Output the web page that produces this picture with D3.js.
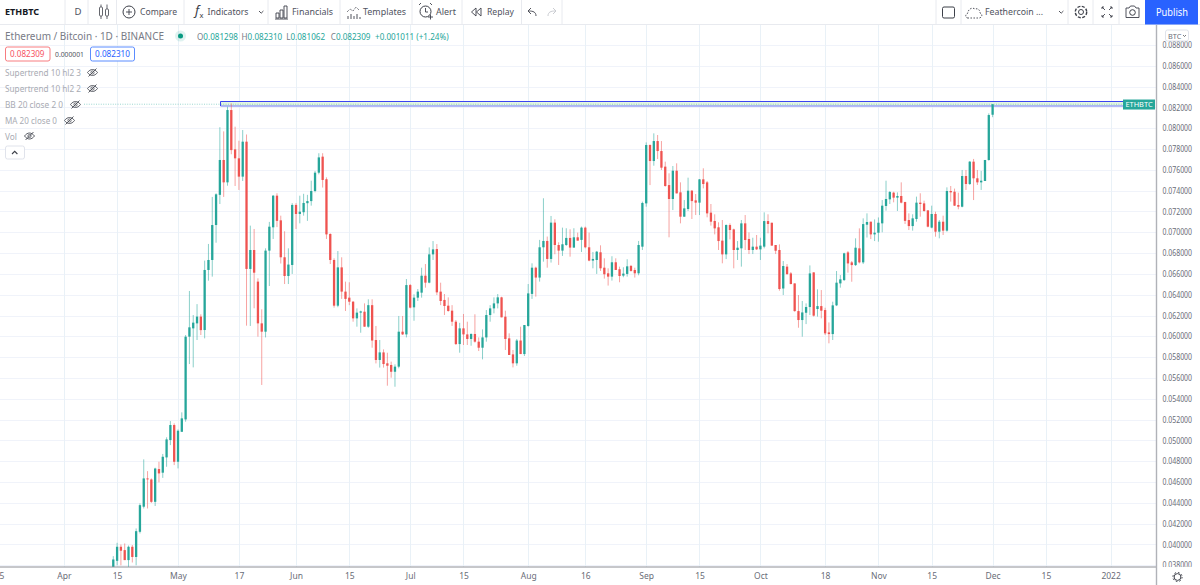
<![CDATA[<!DOCTYPE html>
<html><head><meta charset="utf-8">
<style>html,body{margin:0;padding:0;background:#fff;overflow:hidden}svg{display:block}text{font-family:"Noto Sans",sans-serif}</style>
<script src="https://cdnjs.cloudflare.com/ajax/libs/d3/7.8.5/d3.min.js"></script>
</head><body><svg id="c" width="1200" height="585"></svg>
<script>
// Daily candles from 14 Apr 2021 to 1 Dec 2021, prices in thousandths of a BTC
const firstDay = "2021-04-14";
const O = [
37.6,38.43,39.78,39.46,38.5,39.78,38.8,41.22,43.63,46.35,46.25,44.1,47.25,46.9,48.37,50.04,51.48,
47.95,50.83,52.02,59.97,60.77,61.25,61.9,60.61,66.38,67.34,70.7,73.6,76.95,74.8,81.75,77.97,77.11,75.35,78.71,66.48,68.3,65.26,61.25,60.45,68.24,70.48,73.52,71.15,67.6,65.8,66.86,
72.63,71.76,71.93,72.8,73.0,73.97,75.73,77.27,75.1,69.84,67.34,62.95,66.63,64.3,63.72,63.33,61.73,62.28,62.37,60.93,63.0,59.65,57.73,58.46,57.41,57.25,56.6,57.09,60.45,60.19,
64.93,62.79,63.72,64.2,65.83,65.16,67.88,68.39,64.3,63.5,62.95,62.47,61.41,59.26,60.77,60.19,59.75,60.23,59.49,58.91,59.9,62.05,62.69,63.17,63.75,61.89,59.81,58.27,57.41,59.6,58.3,
61.0,64.08,66.6,65.65,68.56,69.17,67.44,70.93,68.78,68.24,68.78,69.46,68.53,69.52,69.27,70.45,68.56,67.28,67.34,68.08,66.6,66.06,65.74,67.12,66.45,65.84,66.0,66.77,66.38,66.06,68.62,
72.78,78.39,76.85,78.77,77.81,76.31,74.54,73.2,75.92,73.84,71.5,72.24,74.0,73.07,72.85,75.09,74.8,71.89,71.09,70.48,69.2,67.88,70.7,70.28,68.3,68.46,70.86,69.36,68.3,68.62,
68.36,68.62,71.08,70.92,68.78,68.3,64.6,66.7,66.05,65.09,62.43,61.57,62.27,62.82,66.15,62.63,62.91,62.53,60.38,60.22,62.98,65.09,65.41,68.07,67.11,66.85,68.46,67.11,70.73,71.02,69.8,
69.96,70.86,72.53,73.17,73.81,73.33,73.49,72.91,71.18,70.6,71.28,72.85,72.78,72.11,70.45,71.76,70.06,71.02,70.16,73.97,73.9,72.62,72.46,75.41,74.64,76.79,75.19,74.8,74.93,76.95,
81.298];
const H = [
38.88,40.16,40.0,40.1,39.9,39.95,41.54,43.95,48.18,47.05,46.35,47.38,47.95,48.7,50.3,51.86,51.64,
51.06,52.7,60.13,64.36,62.05,63.1,62.12,67.28,68.88,73.4,73.75,80.1,79.7,82.07,82.39,80.15,78.8,79.83,79.4,70.64,70.32,65.58,62.6,68.46,71.0,73.58,73.75,71.6,70.1,68.46,72.8,
72.8,73.52,73.7,73.6,74.96,75.9,77.6,77.6,75.28,69.9,67.5,68.2,67.6,65.26,65.2,63.4,62.69,62.47,63.17,63.56,63.56,61.0,59.65,58.75,58.43,57.57,57.31,61.96,61.96,65.51,
65.03,64.04,64.55,66.6,66.95,68.55,69.16,68.87,65.16,64.07,63.75,63.0,61.57,61.3,62.15,61.41,60.29,62.12,59.9,60.67,62.53,63.0,63.75,64.07,63.81,62.47,60.29,58.69,59.75,60.93,61.09,
65.03,67.02,66.7,69.27,73.27,69.59,71.57,71.25,69.04,70.45,70.39,70.29,70.39,69.97,70.55,70.55,69.97,68.11,68.21,68.75,67.5,66.54,67.7,67.5,66.7,66.64,67.41,66.86,66.6,69.17,72.95,
78.64,78.45,79.51,79.35,78.77,76.79,75.67,76.37,76.63,74.8,73.1,75.25,74.06,73.68,75.12,76.15,74.93,72.72,71.73,70.96,71.18,70.76,70.86,70.35,69.16,71.18,71.66,69.99,69.48,69.74,
69.48,71.92,71.73,70.92,68.78,68.84,67.24,66.95,66.18,65.09,63.97,63.4,63.17,66.82,66.15,64.52,64.45,62.75,61.34,63.33,66.28,65.89,68.04,68.2,67.24,69.42,70.38,71.34,71.82,71.02,71.24,
71.43,73.1,74.96,73.97,73.9,73.84,74.8,72.94,71.82,71.73,73.43,73.75,73.04,72.11,72.56,71.98,71.18,71.6,74.32,74.45,74.2,73.81,75.99,75.99,76.85,77.05,75.99,75.9,76.95,81.43,
82.31];
const L = [
37.5,38.0,38.0,38.5,37.8,38.27,38.0,41.06,43.46,43.46,44.0,43.7,45.97,46.4,47.47,49.55,47.63,
47.31,50.83,51.8,57.34,57.02,59.65,60.13,59.81,65.35,65.74,69.0,72.72,73.4,74.48,77.5,74.45,74.07,74.93,61.03,61.0,62.7,59.97,55.33,59.9,64.84,69.36,70.5,67.0,65.03,65.03,66.0,
70.32,70.86,71.6,71.1,72.56,73.84,75.57,74.3,69.36,66.95,62.76,62.8,63.6,62.44,63.0,61.41,60.93,60.35,60.93,60.83,58.91,57.4,57.0,57.0,55.26,56.03,55.16,56.93,60.13,59.9,
62.69,61.5,63.4,63.72,64.68,65.1,67.34,63.97,63.0,62.05,62.37,61.0,59.17,58.43,59.17,59.17,59.1,59.4,58.59,57.79,59.49,61.41,62.21,62.69,61.83,58.69,58.21,57.02,57.18,58.3,58.11,
60.93,63.6,63.82,65.26,67.18,66.6,67.09,67.89,66.86,67.73,68.69,67.66,68.53,69.2,68.11,68.46,67.22,66.54,66.0,66.29,65.55,64.88,65.36,66.38,65.2,65.68,65.74,66.22,65.65,65.87,68.3,
72.46,74.54,76.4,77.04,75.99,74.38,69.52,72.14,73.74,70.86,71.5,72.05,71.28,71.66,71.66,74.22,71.44,70.64,69.8,68.3,67.02,67.43,69.32,66.54,67.34,66.7,68.3,67.91,67.91,68.3,
67.34,68.46,69.9,68.72,67.91,64.39,63.97,65.9,65.0,62.37,60.83,59.97,61.18,62.05,61.9,61.9,61.73,60.13,59.33,59.65,62.91,64.68,65.32,66.12,65.25,66.76,67.01,66.95,69.5,69.35,69.16,
69.1,70.0,72.08,72.72,72.88,72.05,72.78,70.8,70.22,70.16,71.02,71.5,71.98,70.48,70.38,69.58,69.42,69.74,70.06,72.95,72.53,72.21,72.4,74.07,74.55,73.1,74.55,74.07,74.93,76.88,
81.062];
const C = [
38.56,39.78,39.4,38.5,39.78,38.8,41.28,43.78,46.35,46.28,44.1,47.3,46.83,48.43,50.1,51.48,47.95,
50.93,52.12,59.97,60.87,61.32,61.9,60.6,66.38,67.34,70.7,73.65,76.95,74.8,81.75,77.9,77.11,75.35,78.71,66.48,68.3,66.12,61.25,60.45,68.24,70.54,73.52,71.1,67.6,65.8,66.9,72.63,
71.76,71.98,72.82,73.0,73.97,75.73,77.2,75.03,69.8,67.34,62.95,66.63,64.3,63.6,63.33,61.73,62.28,62.4,60.93,63.0,59.6,57.73,58.46,57.34,57.18,56.6,57.09,60.45,60.19,64.93,
62.76,63.72,64.3,65.83,65.16,67.88,68.36,64.23,63.4,62.92,62.44,61.41,59.26,60.77,60.19,59.75,60.23,59.49,58.91,59.9,62.05,62.69,63.17,63.75,61.83,59.75,58.21,57.41,59.6,58.3,61.09,
64.13,66.6,65.65,68.56,69.17,67.44,70.93,68.78,68.24,68.85,69.46,68.53,69.52,69.2,70.45,68.56,67.28,67.44,68.14,66.54,65.97,65.74,67.12,66.38,65.8,66.03,66.73,66.29,66.06,68.78,72.82,
78.39,76.85,78.77,77.81,76.21,74.45,73.2,75.92,73.74,71.5,72.3,74.0,73.0,72.85,75.09,74.64,71.82,71.02,70.38,69.16,67.88,70.7,70.22,68.3,68.52,70.86,69.26,68.3,68.62,68.36,
68.72,71.08,70.8,68.72,68.23,64.55,66.76,65.99,65.03,62.43,61.57,62.3,62.82,66.05,61.99,62.91,62.47,60.29,60.22,62.98,65.16,65.48,67.98,67.01,66.85,68.52,67.11,70.79,70.99,69.8,69.96,
70.92,72.56,73.2,73.87,73.33,73.49,72.85,71.1,70.6,71.34,72.85,72.72,72.05,70.54,71.76,70.06,71.02,70.16,73.97,73.84,72.56,72.46,75.41,74.64,76.79,75.19,74.8,74.96,76.95,81.27,
82.309];

const priceTicks = [88,86,84,82,80,78,76,74,72,70,68,66,64,62,60,58,56,54,52,50,48,46,44,42,40,38];
const timeTickDates = ["2021-03-15","2021-04-01","2021-04-15","2021-05-01","2021-05-17","2021-06-01","2021-06-15","2021-07-01","2021-07-15","2021-08-01","2021-08-16","2021-09-01","2021-09-15","2021-10-01","2021-10-18","2021-11-01","2021-11-15","2021-12-01","2021-12-15","2022-01-01"];
const timeTickLabels = ["15","Apr","15","May","17","Jun","15","Jul","15","Aug","16","Sep","15","Oct","18","Nov","15","Dec","15","2022"];
const rangeTop = 82.59, rangeBottom = 82.14, rangeStart = "2021-05-12";
const lastClose = 82.309;

const UP="#26a69a", DOWN="#ef5350", BLUE="#2962ff", INK="#131722", GREY="#50535e", FAINT="#a9abb3", SEP="#e8eaef";
const W=1200, H_=585, axisX=1156.5, axisY=567, topY=24.5;
const svg=d3.select("#c");
const parse=d3.utcParse("%Y-%m-%d");
const x=d3.scaleUtc().domain([parse("2021-05-01"),parse("2021-12-01")]).range([178,992.6]);
const y=d3.scaleLinear().domain([88,38]).range([45,565.3]);
const dates=O.map((_,i)=>d3.utcDay.offset(parse(firstDay),i));

const defs=svg.append("defs");
defs.append("clipPath").attr("id","pane").append("rect").attr("x",0).attr("y",topY).attr("width",axisX).attr("height",axisY-topY);
defs.append("clipPath").attr("id","paxis").append("rect").attr("x",axisX).attr("y",topY).attr("width",W-axisX).attr("height",axisY-topY);

// grid
const grid=svg.append("g").attr("clip-path","url(#pane)");
grid.selectAll("line.h").data(priceTicks).join("line").attr("x1",0).attr("x2",axisX).attr("y1",d=>Math.round(y(d))+.5).attr("y2",d=>Math.round(y(d))+.5).attr("stroke","#f0f3fa");
grid.selectAll("line.v").data(timeTickDates).join("line").attr("y1",topY).attr("y2",axisY).attr("x1",d=>Math.round(x(parse(d)))+.5).attr("x2",d=>Math.round(x(parse(d)))+.5).attr("stroke","#e9f1f7");

// highlighted range
const pane=svg.append("g").attr("clip-path","url(#pane)");
const rx=Math.round(x(parse(rangeStart)))+.5, rEnd=1123;
const rTop=Math.round(y(rangeTop))+.5, rBot=y(rangeBottom);
pane.append("rect").attr("x",rx).attr("y",rTop).attr("width",rEnd-rx).attr("height",rBot-rTop).attr("fill","#e4f5e2");
pane.append("line").attr("x1",rx).attr("x2",rEnd).attr("y1",rTop).attr("y2",rTop).attr("stroke","#3a44f0");
pane.append("line").attr("x1",rx).attr("x2",rEnd).attr("y1",rBot).attr("y2",rBot).attr("stroke","#9aa2f4").attr("stroke-width",1.4);
pane.append("line").attr("x1",rx).attr("x2",rx).attr("y1",rTop).attr("y2",rBot).attr("stroke","#3a44f0");
pane.append("line").attr("x1",84).attr("x2",rEnd).attr("y1",y(lastClose)).attr("y2",y(lastClose)).attr("stroke",UP).attr("stroke-opacity",.45).attr("stroke-dasharray","1 1.4");

// candles
const idx=d3.range(O.length);
const col=i=>C[i]>=O[i]?UP:DOWN;
pane.selectAll("line.w").data(idx).join("line").attr("class","w")
 .attr("x1",i=>x(dates[i])).attr("x2",i=>x(dates[i])).attr("y1",i=>y(H[i])).attr("y2",i=>y(L[i]))
 .attr("stroke",col).attr("stroke-width",.9).attr("stroke-opacity",.6);
pane.selectAll("rect.b").data(idx).join("rect").attr("class","b")
 .attr("x",i=>x(dates[i])-1.15).attr("width",2.3)
 .attr("y",i=>y(Math.max(O[i],C[i]))).attr("height",i=>Math.max(1,Math.abs(y(O[i])-y(C[i]))))
 .attr("fill",col);

// axes
const yAxis=d3.axisRight(y).tickValues(priceTicks).tickSize(0).tickPadding(6).tickFormat(d=>(d/1000).toFixed(6));
const ya=svg.append("g").attr("clip-path","url(#paxis)").append("g").attr("transform",`translate(${axisX},0)`).call(yAxis);
ya.select(".domain").remove();
ya.selectAll("text").attr("font-size",8.2).attr("fill","#6a6d78").attr("style",'font-family:"Noto Sans"').attr("dy","0.32em").attr("textLength",29.5).attr("lengthAdjust","spacingAndGlyphs");
const xAxis=d3.axisBottom(x).tickValues(timeTickDates.map(parse)).tickSize(0).tickPadding(5.5).tickFormat((d,i)=>timeTickLabels[i]);
const xa=svg.append("g").attr("transform",`translate(0,${axisY})`).call(xAxis);
xa.select(".domain").remove();
xa.selectAll("text").attr("font-size",8.5).attr("fill","#6a6d78").attr("style",'font-family:"Noto Sans"');
svg.append("line").attr("x1",0).attr("x2",axisX).attr("y1",axisY).attr("y2",axisY).attr("stroke","#8d8f96");
svg.append("line").attr("x1",axisX).attr("x2",axisX).attr("y1",topY).attr("y2",H_).attr("stroke","#b0b2b8").attr("stroke-width",1.4);

// symbol tag
const ly=y(lastClose);
svg.append("rect").attr("x",1123).attr("y",ly-4.7).attr("width",32).attr("height",10).attr("fill",UP);
svg.append("text").attr("x",1139).attr("y",ly+3.2).attr("text-anchor","middle").attr("font-size",7.4).attr("fill","#fff").text("ETHBTC");

// helper
const T=(s,xx,yy,o={})=>{const t=svg.append("text").attr("x",xx).attr("y",yy).attr("font-size",o.fs||9.6).attr("fill",o.c||GREY).attr("font-weight",o.w||400).attr("text-anchor",o.a||"start").text(s);
  if(o.tl)t.attr("textLength",o.tl).attr("lengthAdjust","spacingAndGlyphs");return t;};
const P=(d,o={})=>svg.append("path").attr("d",d).attr("fill",o.f||"none").attr("stroke",o.s||"#3d4049").attr("stroke-width",o.sw||.9).attr("stroke-dasharray",o.da||null);

// toolbar
svg.append("rect").attr("width",W).attr("height",24).attr("fill","#fff");
svg.append("line").attr("x1",0).attr("x2",W).attr("y1",24.5).attr("y2",24.5).attr("stroke",SEP);
[65,88,116.5,184,268,340,412,462,521.5,562,936,961,1068,1093,1119].forEach(s=>svg.append("line").attr("x1",s).attr("x2",s).attr("y1",0).attr("y2",24).attr("stroke",SEP));
T("ETHBTC",5,15.3,{fs:9.4,w:700,c:INK,tl:34});
T("D",78,15.3,{a:"middle",fs:9.6});
P("M101 4.5V19M107 4.5V19",{sw:.8});
svg.append("rect").attr("x",99.5).attr("y",7).attr("width",3).attr("height",9).attr("rx",1).attr("fill","#fff").attr("stroke","#3d4049").attr("stroke-width",.8);
svg.append("rect").attr("x",105.5).attr("y",9).attr("width",3).attr("height",7).attr("rx",1).attr("fill","#fff").attr("stroke","#3d4049").attr("stroke-width",.8);
svg.append("circle").attr("cx",129).attr("cy",12).attr("r",6).attr("fill","none").attr("stroke","#3d4049");
P("M129 9V15M126 12H132");
T("Compare",140,15.3,{tl:37});
T("f",195,15,{fs:13,c:"#3d4049"}).attr("font-style","italic");
T("x",199.5,18,{fs:7.5,c:"#3d4049"});
T("Indicators",207.5,15.3,{tl:41});
P("M259 11l2.2 2.2 2.2-2.2");
P("M276 18v-5h3v5zM280 18v-8h3v8zM284 18V6h3v12zM275 19h13");
T("Financials",292,15.3,{tl:41});
P("M347 12l3-3 3 2 3-4 3 3",{da:"1 1"});P("M348 19v-3M351 19v-5M354 19v-3M357 19v-5M360 19v-2");
T("Templates",363,15.3,{tl:43});
svg.append("circle").attr("cx",425.5).attr("cy",11.5).attr("r",5.5).attr("fill","none").attr("stroke","#3d4049");
P("M419 5l2-2M432 5l-2-2M425.5 8v4h2.5M428 17h5M430.5 14.5v5");
T("Alert",436,15.3,{tl:20});
P("M476 8v8l-4.5-4zM481 8v8l-4.5-4z");
T("Replay",487,15.3,{tl:27});
P("M536 16c0-4-3-5-7-5M531 8l-3 3 3 3");
P("M548 16c0-4 3-5 7-5M553 8l3 3-3 3",{s:"#c4c6cc"});
svg.append("rect").attr("x",942.5).attr("y",7).attr("width",12).attr("height",11).attr("rx",1.5).attr("fill","none").attr("stroke","#3d4049");
P("M968 18c-3 0-3-4 0-5 0-4 4-6 7-4 3-1 5 1 5 4 3 1 2 5-1 5z",{da:"1.5 1.5"});
T("Feathercoin ...",985,15.3,{tl:58});
P("M1059 11l2.2 2.2 2.2-2.2");
svg.append("circle").attr("cx",1081).attr("cy",12).attr("r",2.5).attr("fill","none").attr("stroke","#3d4049");
svg.append("circle").attr("cx",1081).attr("cy",12).attr("r",5.7).attr("fill","none").attr("stroke","#3d4049").attr("stroke-width",1.4).attr("stroke-dasharray","3 1.5");
P("M1102 9V7h2M1112 9V7h-2M1102 15v2h2M1112 15v2h-2M1102 7l3 3M1112 7l-3 3M1102 17l3-3M1112 17l-3-3");
P("M1126 8h3l1.5-2h4l1.5 2h3v9.5h-13z");
svg.append("circle").attr("cx",1132.5).attr("cy",12.5).attr("r",2.8).attr("fill","none").attr("stroke","#3d4049");
svg.append("rect").attr("x",1145).attr("y",0).attr("width",53).attr("height",24.5).attr("fill",BLUE);
T("Publish",1156,15.8,{fs:10.5,c:"#fff",tl:32});

// legend
T("Ethereum / Bitcoin · 1D · BINANCE",5,39.8,{fs:10,c:"#787b86",tl:159});
svg.append("circle").attr("cx",180.5).attr("cy",36).attr("r",5.5).attr("fill",UP).attr("fill-opacity",.15);
svg.append("circle").attr("cx",180.5).attr("cy",36).attr("r",2.5).attr("fill","#089981");
let ox=197;
[["O","0.081298"],["H","0.082310"],["L","0.081062"],["C","0.082309"]].forEach(([a,b])=>{
  const t=svg.append("text").attr("x",ox).attr("y",39.5).attr("font-size",8.1);
  t.append("tspan").attr("fill","#787b86").text(a);
  t.append("tspan").attr("fill",UP).text(b);
  ox+=44.6;
});
T("+0.001011 (+1.24%)",375,39.5,{fs:8.1,c:UP});
svg.append("rect").attr("x",5.5).attr("y",47).attr("width",44.5).attr("height",14).attr("rx",2).attr("fill","#fff").attr("stroke","#f77c80");
T("0.082309",10,57.3,{fs:8.3,c:"#f7525f",tl:34.5});
T("0.000001",55,57.3,{fs:7.8,c:"#50535e",tl:29});
svg.append("rect").attr("x",90.5).attr("y",47).attr("width",44).attr("height",14).attr("rx",2).attr("fill","#fff").attr("stroke","#5b8cff");
T("0.082310",95,57.3,{fs:8.3,c:"#2962ff",tl:35});
function eye(cx,cy){
  P(`M${cx-5} ${cy}c3-4 7-4 10 0c-3 4-7 4-10 0z`,{s:"#4a4d56"});
  svg.append("circle").attr("cx",cx).attr("cy",cy).attr("r",1.6).attr("fill","none").attr("stroke","#4a4d56").attr("stroke-width",.8);
  P(`M${cx-4} ${cy+4}L${cx+4} ${cy-4}`,{s:"#4a4d56"});
}
[["Supertrend 10 hl2 3",76,92.5,76],["Supertrend 10 hl2 2",92,92.5,76],["BB 20 close 2 0",108,75.5,58],["MA 20 close 0",124,69.5,52],["Vol",139.5,29.5,12]].forEach(([s,b,e,tl])=>{
  T(s,5,b,{fs:9,c:FAINT,tl});
  eye(e,b-3.5);
});
svg.append("rect").attr("x",5.5).attr("y",146).attr("width",19).attr("height",13).attr("rx",2).attr("fill","#fff").attr("stroke","#e0e3eb");
P("M12 154l2.7-2.7 2.7 2.7",{sw:1.1});

// price-axis controls
svg.append("rect").attr("x",1165.5).attr("y",30).attr("width",23).attr("height",11).attr("rx",2).attr("fill","#fff").attr("stroke","#e0e3eb");
T("BTC",1168,38.5,{fs:7.3,c:"#6a6d78"});
P("M1183 35l1.5 1.5 1.5-1.5",{sw:.7});
svg.append("circle").attr("cx",1177.5).attr("cy",577).attr("r",3.4).attr("fill","none").attr("stroke","#3d4049");
svg.append("circle").attr("cx",1177.5).attr("cy",577).attr("r",4.6).attr("fill","none").attr("stroke","#3d4049").attr("stroke-dasharray","1.6 2");
</script></body></html>]]>
